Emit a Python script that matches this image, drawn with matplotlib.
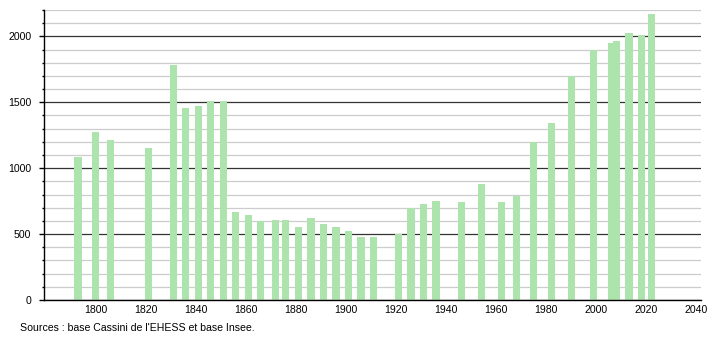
import matplotlib
matplotlib.use("Agg")
import matplotlib.pyplot as plt
from matplotlib.ticker import MultipleLocator

plt.rcParams['font.family'] = ['Liberation Sans', 'DejaVu Sans']

# census years and population
years = [1793, 1800, 1806, 1821, 1831, 1836, 1841, 1846, 1851, 1856,
         1861, 1866, 1872, 1876, 1881, 1886, 1891, 1896, 1901, 1906,
         1911, 1921, 1926, 1931, 1936, 1946, 1954, 1962, 1968, 1975,
         1982, 1990, 1999, 2006, 2008, 2013, 2018, 2022]
population = [1086, 1277, 1216, 1150, 1782, 1454, 1475, 1507, 1507, 670,
              645, 601, 609, 609, 556, 624, 576, 553, 520, 480,
              480, 502, 698, 731, 754, 746, 881, 746, 792, 1198,
              1345, 1700, 1898, 1953, 1968, 2025, 2010, 2170]
x_ticks = [1800, 1820, 1840, 1860, 1880, 1900, 1920, 1940, 1960, 1980, 2000, 2020, 2040]
y_ticks = [0, 500, 1000, 1500, 2000]
source = "Sources : base Cassini de l'EHESS et base Insee."

fig = plt.figure(figsize=(7.1, 3.4), dpi=100)
ax = fig.add_axes([44/710, 1 - 300/340, 657/710, 290/340])

ax.bar(years, population, width=2.9, color='#ade3ad', zorder=2)

ax.set_xlim(1779.4, 2041.8)
ax.set_ylim(0, 2200)
ax.set_xticks(x_ticks)
ax.set_yticks(y_ticks)
ax.yaxis.set_minor_locator(MultipleLocator(100))

ax.grid(axis='y', which='minor', color='#cccccc', linewidth=0.9, zorder=0)
ax.grid(axis='y', which='major', color='#333333', linewidth=0.9, zorder=1)
ax.set_axisbelow(True)

for side in ['top', 'right']:
    ax.spines[side].set_visible(False)
ax.spines['left'].set_linewidth(1.0)
ax.spines['bottom'].set_linewidth(1.0)

ax.tick_params(axis='x', length=0, pad=3.3, labelsize=7.6)
ax.tick_params(axis='y', which='major', length=3.6, width=1, pad=5.6, labelsize=7.6)
ax.tick_params(axis='y', which='minor', length=1.6, width=1)

fig.text(20/710, 1 - 328/340, source, fontsize=7.6, va='center', ha='left')

fig.savefig('out.png', dpi=100)
